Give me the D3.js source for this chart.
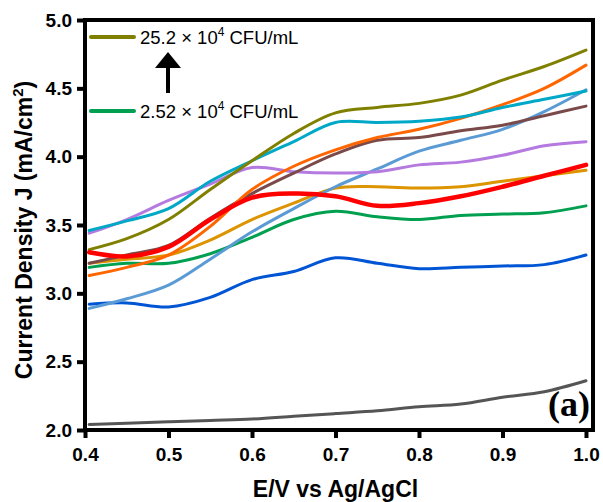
<!DOCTYPE html>
<html>
<head>
<meta charset="utf-8">
<script src="https://cdn.jsdelivr.net/npm/d3@7"></script>
<style>
  body { margin: 0; background: #fff; }
  svg { display: block; }
  .tick text { font-family: 'Liberation Sans', Arial, sans-serif; font-weight: bold; font-size: 19px; }
</style>
</head>
<body>
<div id="chart"></div>
<script>
// potential (V vs Ag/AgCl) at which each curve was read
let potentials = [0.405, 0.45, 0.5, 0.55, 0.6, 0.65, 0.7, 0.75, 0.8, 0.85, 0.9, 0.95, 1.0]

// current density, mA/cm2
let grayCurve = [2.04, 2.05, 2.06, 2.07, 2.08, 2.10, 2.12, 2.14, 2.17, 2.19, 2.24, 2.28, 2.36]
let blueCurve = [2.92, 2.93, 2.90, 2.97, 3.10, 3.16, 3.26, 3.22, 3.18, 3.19, 3.20, 3.21, 3.28]
let greenCurve = [3.19, 3.22, 3.22, 3.29, 3.41, 3.54, 3.60, 3.56, 3.54, 3.57, 3.58, 3.59, 3.64]
let goldCurve = [3.22, 3.25, 3.28, 3.39, 3.54, 3.66, 3.77, 3.78, 3.77, 3.78, 3.82, 3.86, 3.90]
let lightBlueCurve = [2.89, 2.96, 3.06, 3.25, 3.45, 3.62, 3.78, 3.91, 4.04, 4.12, 4.20, 4.33, 4.49]
let purpleCurve = [3.44, 3.54, 3.68, 3.80, 3.92, 3.89, 3.88, 3.89, 3.94, 3.96, 4.01, 4.08, 4.11]
let brownCurve = [3.22, 3.28, 3.35, 3.55, 3.73, 3.88, 4.02, 4.12, 4.14, 4.19, 4.23, 4.30, 4.37]
let orangeCurve = [3.13, 3.19, 3.28, 3.49, 3.76, 3.93, 4.05, 4.14, 4.20, 4.28, 4.38, 4.50, 4.67]
let cyanCurve = [3.46, 3.53, 3.62, 3.82, 3.97, 4.11, 4.25, 4.25, 4.26, 4.29, 4.36, 4.42, 4.48]
let oliveCurve = [3.32, 3.40, 3.54, 3.76, 3.97, 4.17, 4.32, 4.36, 4.39, 4.45, 4.56, 4.66, 4.78]
let redCurve = [3.30, 3.27, 3.34, 3.54, 3.70, 3.73, 3.71, 3.64, 3.66, 3.71, 3.78, 3.86, 3.94]

let xTicks = [0.4, 0.5, 0.6, 0.7, 0.8, 0.9, 1.0]
let yTicks = [2.0, 2.5, 3.0, 3.5, 4.0, 4.5, 5.0]

let legendLabels = [
  { main: '25.2 \u00d7 10', sup: '4', rest: ' CFU/mL', color: '#808000' },
  { main: '2.52 \u00d7 10', sup: '4', rest: ' CFU/mL', color: '#00a050' }
]

let curves = [
  { values: grayCurve, color: '#555555', w: 3 },
  { values: blueCurve, color: '#0055d4', w: 3 },
  { values: greenCurve, color: '#00a050', w: 3 },
  { values: goldCurve, color: '#dc9400', w: 3 },
  { values: lightBlueCurve, color: '#5b9bd5', w: 3 },
  { values: purpleCurve, color: '#b47ae0', w: 3 },
  { values: brownCurve, color: '#7a4a4a', w: 3 },
  { values: orangeCurve, color: '#ff6600', w: 3 },
  { values: cyanCurve, color: '#00a8c8', w: 3 },
  { values: oliveCurve, color: '#808000', w: 3 },
  { values: redCurve, color: '#ff0000', w: 4.5 }
]

let width = 603
let height = 502
let margin = { top: 20, left: 85, right: 10, bottom: 72 }

let svg = d3
  .select('#chart')
  .append('svg')
  .attr('width', width)
  .attr('height', height)

let x = d3.scaleLinear().domain([0.4, 1.0084]).range([margin.left, width - margin.right])
let y = d3.scaleLinear().domain([2.0, 5.0]).range([height - margin.bottom, margin.top])

let line = d3
  .line()
  .x((d, i) => x(potentials[i]))
  .y(d => y(d))
  .curve(d3.curveCatmullRom)

svg
  .selectAll('.curve')
  .data(curves)
  .enter()
  .append('path')
  .attr('class', 'curve')
  .attr('d', d => line(d.values))
  .attr('fill', 'none')
  .attr('stroke', d => d.color)
  .attr('stroke-width', d => d.w)
  .attr('stroke-linejoin', 'round')
  .attr('stroke-linecap', 'round')

// frame
svg
  .append('rect')
  .attr('x', x(0.4))
  .attr('y', y(5.0))
  .attr('width', x.range()[1] - x(0.4))
  .attr('height', y(2.0) - y(5.0))
  .attr('fill', 'none')
  .attr('stroke', 'black')
  .attr('stroke-width', 4)

let xAxis = svg
  .append('g')
  .attr('transform', 'translate(0,' + y(2.0) + ')')
  .call(d3.axisBottom(x).tickValues(xTicks).tickFormat(d3.format('.1f')).tickSize(8).tickPadding(10))

let yAxis = svg
  .append('g')
  .attr('transform', 'translate(' + x(0.4) + ',0)')
  .call(d3.axisLeft(y).tickValues(yTicks).tickFormat(d3.format('.1f')).tickSize(8).tickPadding(5))

xAxis.select('.domain').remove()
yAxis.select('.domain').remove()
svg.selectAll('.tick line').attr('stroke', 'black').attr('stroke-width', 4)
svg.selectAll('.tick text').attr('fill', 'black')

svg
  .append('text')
  .attr('x', (x(0.4) + x(1.0)) / 2)
  .attr('y', 497)
  .attr('text-anchor', 'middle')
  .attr('font-family', 'Liberation Sans, Arial, sans-serif')
  .attr('font-weight', 'bold')
  .attr('font-size', 23)
  .text('E/V vs Ag/AgCl')

let yTitle = svg
  .append('text')
  .attr('transform', 'translate(32,230) rotate(-90)')
  .attr('text-anchor', 'middle')
  .attr('font-family', 'Liberation Sans, Arial, sans-serif')
  .attr('font-weight', 'bold')
  .attr('font-size', 23)
yTitle.append('tspan').text('Current Density J (mA/cm')
yTitle.append('tspan').attr('font-size', 15).attr('dy', -9).text('2')
yTitle.append('tspan').attr('dy', 9).text(')')

// legend
let legendY = [37, 111]
legendLabels.forEach((d, i) => {
  svg
    .append('line')
    .attr('x1', 91)
    .attr('x2', 134)
    .attr('y1', legendY[i])
    .attr('y2', legendY[i])
    .attr('stroke', d.color)
    .attr('stroke-width', 4)
    .attr('stroke-linecap', 'round')
  let t = svg
    .append('text')
    .attr('x', 140)
    .attr('y', legendY[i] + 7)
    .attr('font-family', 'Liberation Sans, Arial, sans-serif')
    .attr('font-size', 18.5)
  t.append('tspan').text(d.main)
  t.append('tspan').attr('font-size', 12).attr('dy', -8).text(d.sup)
  t.append('tspan').attr('dy', 8).text(d.rest)
})

// arrow between the two legend entries
svg
  .append('line')
  .attr('x1', 168)
  .attr('x2', 168)
  .attr('y1', 93)
  .attr('y2', 64)
  .attr('stroke', 'black')
  .attr('stroke-width', 4)
svg
  .append('path')
  .attr('d', 'M168,52 L181,68 L155,68 Z')
  .attr('fill', 'black')

svg
  .append('text')
  .attr('x', 590)
  .attr('y', 416)
  .attr('text-anchor', 'end')
  .attr('font-family', 'Liberation Serif, Times New Roman, serif')
  .attr('font-weight', 'bold')
  .attr('font-size', 36)
  .text('(a)')
</script>
</body>
</html>
